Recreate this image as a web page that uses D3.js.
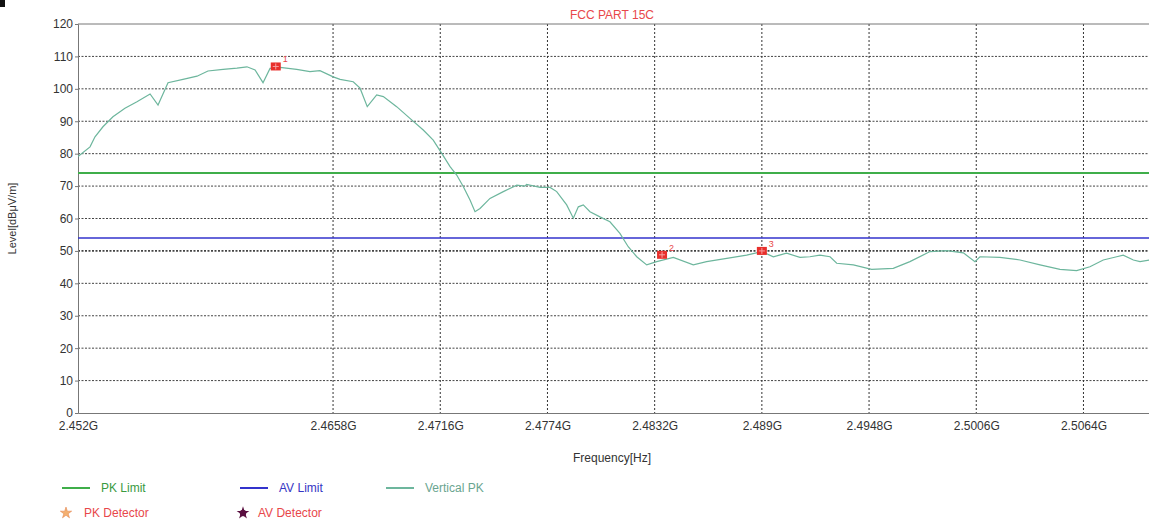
<!DOCTYPE html>
<html>
<head>
<meta charset="utf-8">
<script src="https://cdn.jsdelivr.net/npm/d3@7"></script>
<style>
  body { margin: 0; background: #fff; }
  svg { display: block; font-family: "Liberation Sans", Arial, sans-serif; }
</style>
</head>
<body>
<div id="chart"></div>
<script>
// trace (frequency in MHz, level in dBuV/m)
var freqMHz = [2452.0, 2452.65, 2452.92, 2453.35, 2453.89, 2454.54, 2455.19, 2455.90, 2456.33, 2456.87,
    2457.68, 2458.44, 2459.03, 2459.85, 2460.60, 2461.14, 2461.58, 2462.01, 2462.39, 2462.93,
    2463.83, 2464.55, 2465.09, 2465.81, 2466.18, 2466.89, 2467.26, 2467.65, 2468.16, 2468.52,
    2469.24, 2469.96, 2470.68, 2471.22, 2471.68, 2472.13, 2472.49, 2472.85, 2473.21, 2473.48,
    2473.75, 2474.29, 2475.01, 2475.74, 2476.18, 2476.27, 2477.00, 2477.54, 2477.90, 2478.44,
    2478.80, 2479.07, 2479.34, 2479.70, 2480.24, 2480.78, 2481.32, 2481.77, 2482.23, 2482.77,
    2483.31, 2484.21, 2485.29, 2486.01, 2487.10, 2488.18, 2488.99, 2489.62, 2490.34, 2491.06,
    2491.60, 2492.14, 2492.69, 2493.05, 2493.95, 2494.94, 2496.11, 2497.01, 2498.10, 2499.00,
    2499.90, 2500.53, 2500.80, 2501.88, 2502.97, 2504.05, 2505.13, 2506.03, 2506.75, 2507.47,
    2508.20, 2508.55, 2509.10, 2509.46, 2510.0];
var levelPK = [79.1, 82.1, 85.2, 88.3, 91.4, 94.0, 96.0, 98.4, 95.0, 101.9,
    102.9, 103.9, 105.5, 106.0, 106.4, 106.8, 105.8, 101.9, 106.3, 106.6,
    106.0, 105.3, 105.6, 103.7, 102.9, 102.2, 100.2, 94.5, 98.1, 97.6,
    94.5, 90.9, 87.3, 84.2, 80.1, 76.0, 73.4, 69.8, 65.7, 62.1,
    63.1, 66.2, 68.3, 70.3, 70.0, 70.5, 69.6, 69.6, 68.3, 64.2,
    60.1, 63.6, 64.2, 62.1, 60.5, 59.0, 55.4, 51.3, 48.2, 45.7,
    46.7, 48.0, 45.7, 46.7, 47.7, 48.7, 49.8, 48.2, 49.3, 48.0,
    48.2, 48.7, 48.2, 46.2, 45.7, 44.3, 44.6, 46.7, 49.8, 50.1,
    49.4, 46.7, 48.2, 48.0, 47.2, 45.7, 44.3, 43.9, 45.1, 47.2,
    48.2, 48.7, 47.2, 46.7, 47.2];

var markerIds = ["1", "2", "3"];
var markerFreq = [2462.7, 2483.6, 2489.0];
var markerLevel = [106.9, 48.8, 50.0];

var pkLimit = 74;
var avLimit = 54;

var xTickValues = [2452, 2465.8, 2471.6, 2477.4, 2483.2, 2489, 2494.8, 2500.6, 2506.4];
var xTickLabels = ["2.452G", "2.4658G", "2.4716G", "2.4774G", "2.4832G", "2.489G", "2.4948G", "2.5006G", "2.5064G"];
var yTickValues = [0, 10, 20, 30, 40, 50, 60, 70, 80, 90, 100, 110, 120];

function drawChart(domElement){

    var width = 1149, height = 524;
    var plotLeft = 78, plotRight = 1150, plotTop = 24, plotBottom = 413;

    var svg = d3.select(domElement).append("svg")
        .attr("width", width)
        .attr("height", height);

    var x = d3.scaleLinear().domain([2452, 2510]).range([plotLeft, plotRight]);
    var y = d3.scaleLinear().domain([0, 120]).range([plotBottom, plotTop]);

    svg.append("defs").append("clipPath").attr("id", "plotClip")
        .append("rect")
        .attr("x", plotLeft).attr("y", plotTop)
        .attr("width", plotRight - plotLeft).attr("height", plotBottom - plotTop);

    // stray bit at the cropped top edge
    svg.append("rect").attr("x", 0).attr("y", 0).attr("width", 5).attr("height", 7).attr("fill", "#111");

    svg.append("text")
        .attr("x", 612).attr("y", 19)
        .attr("text-anchor", "middle")
        .attr("font-size", 12)
        .attr("fill", "#e8474a")
        .text("FCC  PART 15C");

    // grid
    var grid = svg.append("g");
    grid.selectAll(".hgrid")
        .data(yTickValues.filter(function(d){ return d > 0 && d < 120; }))
        .enter().append("line")
        .attr("x1", plotLeft).attr("x2", plotRight)
        .attr("y1", function(d){ return y(d); })
        .attr("y2", function(d){ return y(d); })
        .attr("stroke", "#444")
        .attr("stroke-width", function(d){ return d === 50 ? 1.8 : 1; })
        .attr("stroke-dasharray", "2,1.5");
    grid.selectAll(".vgrid")
        .data(xTickValues.slice(1))
        .enter().append("line")
        .attr("x1", function(d){ return x(d); })
        .attr("x2", function(d){ return x(d); })
        .attr("y1", plotTop).attr("y2", plotBottom)
        .attr("stroke", "#333")
        .attr("stroke-dasharray", "2,2");

    // axes
    var xAxis = d3.axisBottom(x)
        .tickValues(xTickValues)
        .tickSize(0)
        .tickPadding(8)
        .tickFormat(function(d, i){ return xTickLabels[i]; });
    var gx = svg.append("g").attr("transform", "translate(0," + plotBottom + ")").call(xAxis);
    gx.select(".domain").attr("stroke", "#777");
    gx.selectAll("text").attr("font-size", 12).attr("fill", "#333");

    var yAxis = d3.axisLeft(y)
        .tickValues(yTickValues)
        .tickSize(3)
        .tickPadding(2);
    var gy = svg.append("g").attr("transform", "translate(" + plotLeft + ",0)").call(yAxis);
    gy.select(".domain").attr("stroke", "#777");
    gy.selectAll(".tick line").attr("stroke", "#777");
    gy.selectAll("text").attr("font-size", 12).attr("fill", "#333");
    svg.selectAll(".tick text").attr("font-family", "Liberation Sans, Arial, sans-serif");

    svg.append("line")
        .attr("x1", plotLeft).attr("x2", plotRight)
        .attr("y1", plotTop).attr("y2", plotTop)
        .attr("stroke", "#777");

    svg.append("text")
        .attr("transform", "translate(16," + ((plotTop + plotBottom) / 2) + ") rotate(-90)")
        .attr("text-anchor", "middle")
        .attr("font-size", 11)
        .attr("fill", "#333")
        .text("Level[dBμV/m]");

    svg.append("text")
        .attr("x", 612).attr("y", 462)
        .attr("text-anchor", "middle")
        .attr("font-size", 12)
        .attr("fill", "#333")
        .text("Frequency[Hz]");

    // limits
    var plot = svg.append("g").attr("clip-path", "url(#plotClip)");
    plot.append("line")
        .attr("x1", plotLeft).attr("x2", plotRight)
        .attr("y1", y(pkLimit)).attr("y2", y(pkLimit))
        .attr("stroke", "#3fae4a").attr("stroke-width", 2);
    plot.append("line")
        .attr("x1", plotLeft).attr("x2", plotRight)
        .attr("y1", y(avLimit)).attr("y2", y(avLimit))
        .attr("stroke", "#3333cc").attr("stroke-width", 1.6);

    // trace
    var line = d3.line()
        .x(function(d){ return x(d[0]); })
        .y(function(d){ return y(d[1]); });
    plot.append("path")
        .datum(d3.zip(freqMHz, levelPK))
        .attr("d", line)
        .attr("fill", "none")
        .attr("stroke", "#6db69d")
        .attr("stroke-width", 1.2);

    // markers
    var markers = svg.append("g").selectAll("g")
        .data(d3.zip(markerIds, markerFreq, markerLevel))
        .enter().append("g")
        .attr("transform", function(d){ return "translate(" + x(d[1]) + "," + y(d[2]) + ")"; });
    markers.append("rect")
        .attr("x", -5).attr("y", -4).attr("width", 10).attr("height", 8)
        .attr("fill", "#e8302c");
    markers.append("path")
        .attr("d", "M-3,0H3M0,-3V3")
        .attr("stroke", "#f7a0a0").attr("stroke-width", 1);
    markers.append("text")
        .attr("x", 7).attr("y", -4)
        .attr("font-size", 9)
        .attr("fill", "#e8474a")
        .text(function(d){ return d[0]; });

    // legend
    var legendLines = [
        {label: "PK Limit", color: "#3fae4a", text: "#3a9a3f", x: 62},
        {label: "AV Limit", color: "#3333cc", text: "#3535c4", x: 240},
        {label: "Vertical PK", color: "#6db69d", text: "#6aa590", x: 386}
    ];
    var lg = svg.append("g");
    legendLines.forEach(function(d){
        lg.append("line")
            .attr("x1", d.x).attr("x2", d.x + 28)
            .attr("y1", 488).attr("y2", 488)
            .attr("stroke", d.color).attr("stroke-width", 2);
        lg.append("text")
            .attr("x", d.x + 39).attr("y", 492)
            .attr("font-size", 12)
            .attr("fill", d.text)
            .text(d.label);
    });
    lg.append("path")
        .attr("transform", "translate(66,513)")
        .attr("d", d3.symbol().type(d3.symbolStar).size(40))
        .attr("fill", "#f3b070").attr("stroke", "#e07840").attr("stroke-width", 0.5);
    lg.append("text")
        .attr("x", 84).attr("y", 517)
        .attr("font-size", 12).attr("fill", "#e8474a")
        .text("PK Detector");
    lg.append("path")
        .attr("transform", "translate(243,513)")
        .attr("d", d3.symbol().type(d3.symbolStar).size(50))
        .attr("fill", "#5a1040");
    lg.append("circle")
        .attr("cx", 243).attr("cy", 513).attr("r", 3.2)
        .attr("fill", "#5a1040");
    lg.append("text")
        .attr("x", 258).attr("y", 517)
        .attr("font-size", 12).attr("fill", "#e8474a")
        .text("AV Detector");
}

drawChart(document.getElementById("chart"));
</script>
</body>
</html>
